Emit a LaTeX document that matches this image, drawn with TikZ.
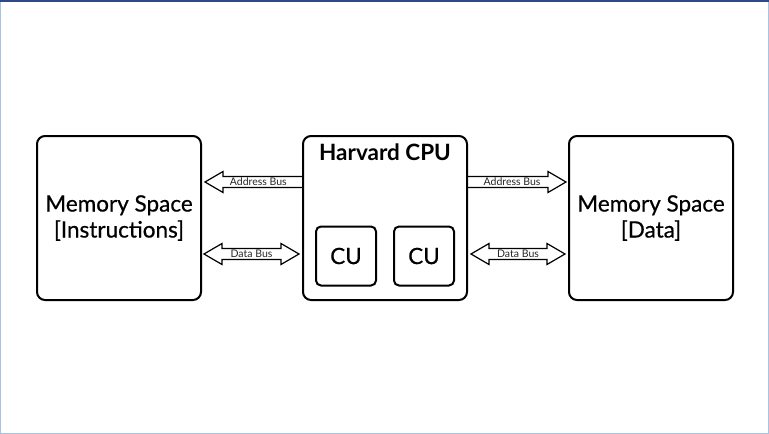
\documentclass[tikz,border=0pt]{standalone}
\usepackage{fontspec}
\setmainfont{Lato}
\newfontfamily\latomedio[FakeBold=0.6]{Lato}
\usepackage{tikz}
\usetikzlibrary{positioning, calc}
\usepackage{xcolor}
\definecolor{bluscuro}{HTML}{2C4A86}
\definecolor{bluchiaro}{HTML}{A8C4E2}
\tikzset{
  blocco/.style={draw, line width = 2pt, rounded corners = 8pt, minimum width = 164pt, minimum height = 164pt, inner sep = 0pt, align = center, font = \latomedio\fontsize{22.5}{26}\selectfont},
  unita/.style={draw, line width = 2pt, rounded corners = 5pt, minimum width = 60pt, minimum height = 59pt, inner sep = 0pt, font = \latomedio\fontsize{22.5}{26}\selectfont},
  etichetta/.style={inner sep = 0pt, text = black!85, font = \fontsize{10.5}{12}\selectfont},
  % freccia vuota con una punta (verso il target)
  bus/.style={draw, line width = 1.2pt, line join = miter, to path={
    let \p1 = (\tikztostart), \p2 = (\tikztotarget), \n1 = {-\testa*sign(\x2-\x1)} in
    ($(\tikztostart)+(0,\gambo)$) -- ($(\tikztotarget)+(\n1,\gambo)$) -- ($(\tikztotarget)+(\n1,\punta)$) -- (\tikztotarget)
    -- ($(\tikztotarget)+(\n1,-\punta)$) -- ($(\tikztotarget)+(\n1,-\gambo)$) -- ($(\tikztostart)+(0,-\gambo)$)}},
  % freccia vuota con due punte
  busdoppio/.style={draw, line width = 1.2pt, line join = miter, to path={
    let \p1 = (\tikztostart), \p2 = (\tikztotarget), \n1 = {-\testa*sign(\x2-\x1)}, \n2 = {\testa*sign(\x2-\x1)} in
    (\tikztostart) -- ($(\tikztostart)+(\n2,\punta)$) -- ($(\tikztostart)+(\n2,\gambo)$) -- ($(\tikztotarget)+(\n1,\gambo)$)
    -- ($(\tikztotarget)+(\n1,\punta)$) -- (\tikztotarget) -- ($(\tikztotarget)+(\n1,-\punta)$) -- ($(\tikztotarget)+(\n1,-\gambo)$)
    -- ($(\tikztostart)+(\n2,-\gambo)$) -- ($(\tikztostart)+(\n2,-\punta)$) -- cycle}}
}

\begin{document}
\begin{tikzpicture}[x = 1pt, y = -1pt]
    % parametri
    \pgfmathsetmacro{\gambo}{5.5}
    \pgfmathsetmacro{\punta}{10.5}
    \pgfmathsetmacro{\testa}{18}
    % cornice
    \useasboundingbox (0,0) rectangle (769,434);
    \draw[bluchiaro, line width = 1pt] (0.5,1) rectangle (768.5,433.5);
    \draw[bluscuro, line width = 2.5pt] (0,1) -- (769,1);
    % blocchi
    \node[blocco] (memI) at (119,218) {Memory Space\\{}[Instructions]};
    \node[blocco, right = 100pt of memI] (cpu) {};
    \node[blocco, right = 100pt of cpu] (memD) {Memory Space\\{}[Data]};
    \node[font = \fontsize{22.5}{26}\selectfont\bfseries, inner sep = 0pt] (titolo) at ([yshift = -17pt]cpu.north) {Harvard CPU};
    % unita' di controllo
    \node[unita] (cuA) at ([xshift = -39pt, yshift = -38pt]cpu.center) {CU};
    \node[unita, right = 16pt of cuA] (cuB) {CU};
    % estremi dei bus
    \coordinate (aIs) at ([yshift = 36pt]cpu.west);
    \coordinate (aIt) at ([xshift = 3pt, yshift = 36pt]memI.east);
    \coordinate (dIs) at ([xshift = -3pt, yshift = -36pt]cpu.west);
    \coordinate (dIt) at ([xshift = 2pt, yshift = -36pt]memI.east);
    \coordinate (aDs) at ([yshift = 36pt]cpu.east);
    \coordinate (aDt) at ([xshift = -2pt, yshift = 36pt]memD.west);
    \coordinate (dDs) at ([xshift = 3pt, yshift = -36pt]cpu.east);
    \coordinate (dDt) at ([xshift = -3pt, yshift = -36pt]memD.west);
    % bus
    \draw[bus] (aIs) to (aIt);
    \draw[busdoppio] (dIs) to (dIt);
    \draw[bus] (aDs) to (aDt);
    \draw[busdoppio] (dDs) to (dDt);
    % etichette dei bus
    \node[etichetta] (labAI) at ($(aIs)!0.45!(aIt)$) {Address Bus};
    \node[etichetta] (labDI) at ($(dIs)!0.5!(dIt)$) {Data Bus};
    \node[etichetta] (labAD) at ($(aDs)!0.45!(aDt)$) {Address Bus};
    \node[etichetta] (labDD) at ($(dDs)!0.5!(dDt)$) {Data Bus};
\end{tikzpicture}
\end{document}
